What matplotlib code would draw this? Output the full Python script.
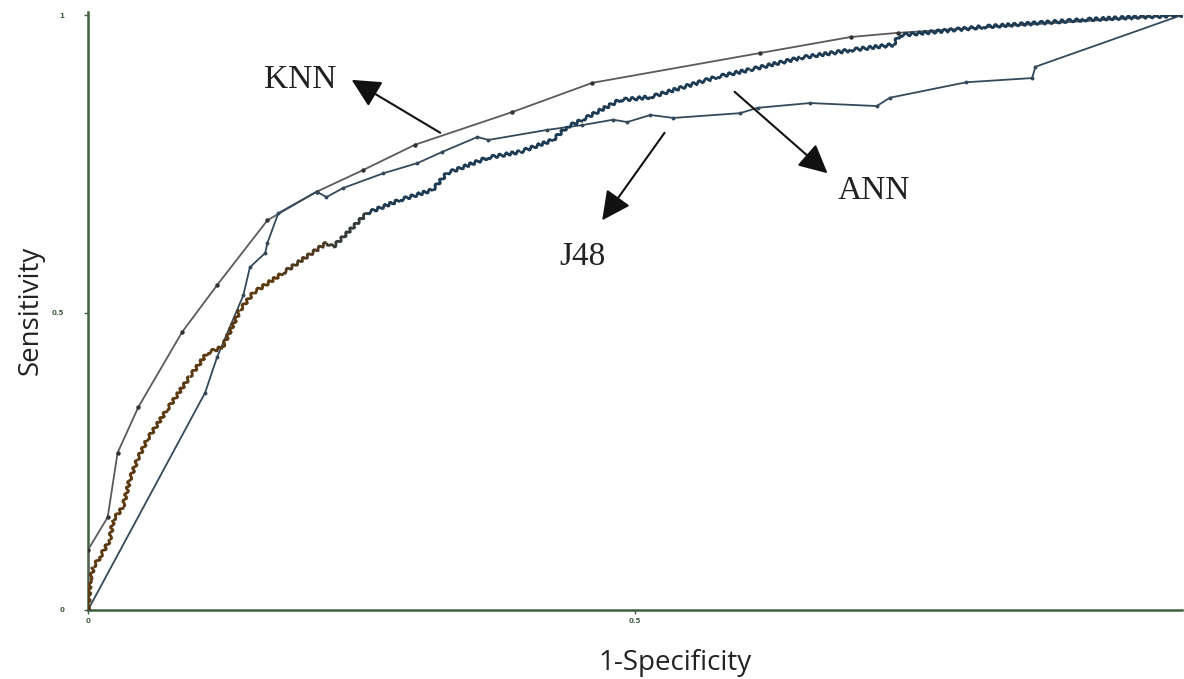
import numpy as np
import matplotlib
matplotlib.use("Agg")
import matplotlib.pyplot as plt
from matplotlib.collections import LineCollection
from matplotlib.colors import LinearSegmentedColormap, Normalize

# ---- data ----
knn_x = [0.000, 0.000, 0.018, 0.027, 0.046, 0.086, 0.118, 0.164, 0.209, 0.251,
         0.299, 0.388, 0.461, 0.614, 0.697, 0.740, 1.000]
knn_y = [0.000, 0.101, 0.156, 0.264, 0.341, 0.467, 0.546, 0.655, 0.703, 0.739,
         0.782, 0.837, 0.886, 0.936, 0.963, 0.970, 1.000]

j48_x = [0.000, 0.107, 0.118, 0.142, 0.148, 0.162, 0.164, 0.174, 0.209, 0.218,
         0.233, 0.270, 0.301, 0.324, 0.356, 0.366, 0.420, 0.452, 0.480, 0.493,
         0.514, 0.535, 0.596, 0.612, 0.660, 0.721, 0.733, 0.803, 0.863, 0.866, 1.000]
j48_y = [0.000, 0.365, 0.425, 0.529, 0.576, 0.600, 0.617, 0.667, 0.703, 0.694,
         0.709, 0.734, 0.751, 0.770, 0.795, 0.790, 0.807, 0.815, 0.824, 0.820,
         0.832, 0.827, 0.835, 0.844, 0.852, 0.847, 0.861, 0.887, 0.894, 0.913, 1.000]

ann_x = [0.000, 0.002, 0.005, 0.011, 0.020, 0.023, 0.032, 0.038, 0.045, 0.054,
         0.072, 0.093, 0.109, 0.123, 0.139, 0.151, 0.178, 0.218, 0.224, 0.255,
         0.285, 0.315, 0.328, 0.365, 0.395, 0.425, 0.438, 0.452, 0.486, 0.514,
         0.575, 0.605, 0.651, 0.697, 0.736, 0.742, 0.818, 0.910, 1.000]
ann_y = [0.000, 0.050, 0.072, 0.089, 0.118, 0.151, 0.173, 0.218, 0.252, 0.286,
         0.336, 0.392, 0.432, 0.442, 0.504, 0.533, 0.566, 0.617, 0.610, 0.667,
         0.689, 0.706, 0.734, 0.760, 0.770, 0.790, 0.812, 0.824, 0.857, 0.862,
         0.896, 0.908, 0.928, 0.941, 0.950, 0.966, 0.980, 0.992, 1.000]

x_ticks = [0.0, 0.5]
x_tick_labels = ["0", "0.5"]
y_ticks = [0.0, 0.5, 1.0]
y_tick_labels = ["0", "0.5", "1"]

labels = ["KNN", "ANN", "J48"]
label_pos = [(0.194, 0.891), (0.718, 0.704), (0.452, 0.593)]
arrow_tail = [(0.322, 0.802), (0.591, 0.871), (0.527, 0.802)]
arrow_tip = [(0.241, 0.891), (0.676, 0.734), (0.470, 0.655)]

# ---- figure ----
fig = plt.figure(figsize=(11.84, 6.79), dpi=100)
ax = fig.add_axes([88 / 1184, 69 / 679, 1094 / 1184, 595 / 679])
ax.set_xlim(0, 1)
ax.set_ylim(0, 1)

green = "#3f5f3f"
for s in ["top", "right"]:
    ax.spines[s].set_visible(False)
for s in ["left", "bottom"]:
    ax.spines[s].set_color(green)
    ax.spines[s].set_linewidth(1.8)
ax.spines["left"].set_bounds(0, 1.005)

ax.set_xticks(x_ticks)
ax.set_xticklabels(x_tick_labels)
ax.set_yticks(y_ticks)
ax.set_yticklabels(y_tick_labels)
ax.tick_params(axis="both", direction="out", length=3, width=1, color=green,
               labelsize=5, labelcolor=green)
ax.tick_params(axis="x", pad=3)
ax.tick_params(axis="y", pad=14)
for t in ax.get_xticklabels() + ax.get_yticklabels():
    t.set_fontweight("bold")

# KNN
ax.plot(knn_x, knn_y, color="#5a5a5a", lw=1.3, marker="o", ms=2.2,
        mfc="#333333", mec="#333333", zorder=3)
# J48
ax.plot(j48_x, j48_y, color="#34495a", lw=1.3, marker="o", ms=1.8,
        mfc="#34495a", mec="#34495a", zorder=3)
# ANN with brown -> navy gradient
pts = np.column_stack([ann_x, ann_y])
segs = np.stack([pts[:-1], pts[1:]], axis=1)
cmap = LinearSegmentedColormap.from_list("bn", ["#5b3a12", "#5b3a12", "#1d3b52", "#1d3b52"])
norm = Normalize(vmin=0.45, vmax=0.8)
mid_y = (pts[:-1, 1] + pts[1:, 1]) / 2
lc = LineCollection(segs, colors=cmap(norm(mid_y)), linewidths=2.0,
                    capstyle="butt", joinstyle="miter", zorder=4)
lc.set_sketch_params(scale=1.5, length=7, randomness=1.5)
ax.add_collection(lc)

# annotations
for lab, lp, tail, tip in zip(labels, label_pos, arrow_tail, arrow_tip):
    ax.text(lp[0], lp[1], lab, family="Liberation Serif", fontsize=24,
            color="#222222", ha="center", va="center")
    ax.annotate("", xy=tip, xytext=tail,
                arrowprops=dict(arrowstyle="-|>,head_length=0.8,head_width=0.4",
                                mutation_scale=22, color="#111111", lw=1.5,
                                shrinkA=0, shrinkB=0))

fig.text(675 / 1184, 1 - 663 / 679, "1-Specificity", family="Open Sans",
         fontsize=20, ha="center", va="center", color="#222222")
fig.text(31 / 1184, 1 - 310 / 679, "Sensitivity", family="Open Sans",
         fontsize=20, rotation=90, ha="center", va="center", color="#222222")

fig.savefig("out.png", dpi=100)
